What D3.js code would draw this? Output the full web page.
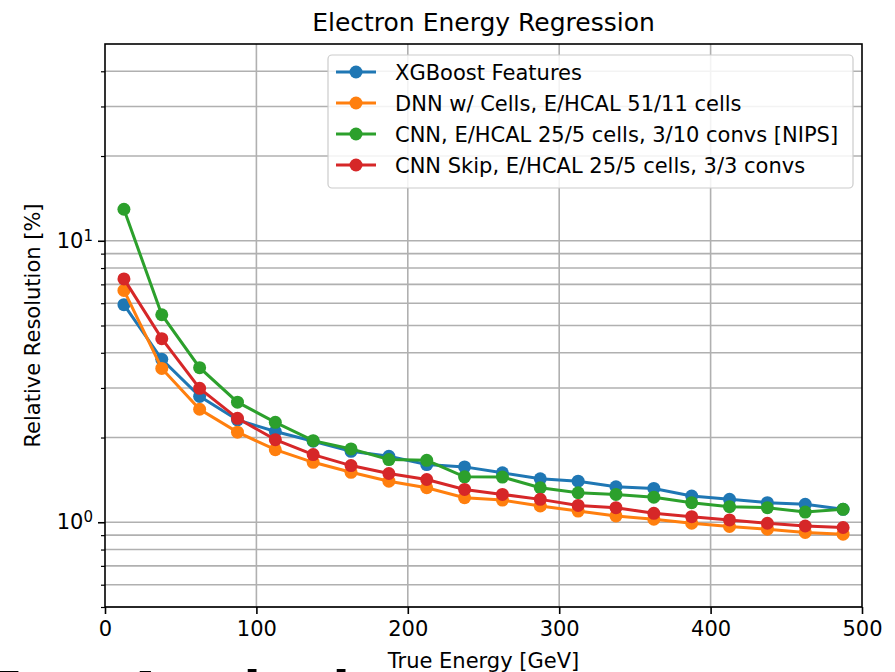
<!DOCTYPE html>
<meta charset="utf-8">
<style>
body { margin: 0; background: #fff; }
svg { font-family: "DejaVu Sans", sans-serif; }
</style>
<svg id="chart" width="895" height="672"></svg>
<script src="https://cdn.jsdelivr.net/npm/d3@7/dist/d3.min.js"></script>
<script>

// energies (bin centres, GeV)
var energy = [12.5, 37.5, 62.5, 87.5, 112.5, 137.5, 162.5, 187.5, 212.5, 237.5,
              262.5, 287.5, 312.5, 337.5, 362.5, 387.5, 412.5, 437.5, 462.5, 487.5];

var xgboost = [5.93, 3.79, 2.80, 2.31, 2.10, 1.94, 1.786, 1.715, 1.603, 1.573,
               1.498, 1.427, 1.399, 1.337, 1.319, 1.239, 1.206, 1.174, 1.158, 1.112];
var dnn     = [6.66, 3.52, 2.52, 2.09, 1.81, 1.633, 1.505, 1.399, 1.326, 1.223,
               1.199, 1.142, 1.096, 1.053, 1.025, 0.992, 0.966, 0.945, 0.920, 0.907];
var cnn     = [12.94, 5.46, 3.54, 2.67, 2.265, 1.949, 1.822, 1.670, 1.660, 1.450,
               1.447, 1.326, 1.273, 1.256, 1.228, 1.174, 1.136, 1.127, 1.087, 1.112];
var cnnSkip = [7.32, 4.49, 2.99, 2.34, 1.965, 1.739, 1.590, 1.490, 1.419, 1.308,
               1.256, 1.206, 1.148, 1.127, 1.076, 1.047, 1.019, 0.992, 0.970, 0.958];

var seriesNames = ["XGBoost Features",
                   "DNN w/ Cells, E/HCAL 51/11 cells",
                   "CNN, E/HCAL 25/5 cells, 3/10 convs [NIPS]",
                   "CNN Skip, E/HCAL 25/5 cells, 3/3 convs"];
var seriesValues = [xgboost, dnn, cnn, cnnSkip];
var colors = ["#1f77b4", "#ff7f0e", "#2ca02c", "#d62728"];

var xTicks = [0, 100, 200, 300, 400, 500];
var yMajor = [1, 10];
var yMinor = [0.5, 0.6, 0.7, 0.8, 0.9, 2, 3, 4, 5, 6, 7, 8, 9, 20, 30, 40];

var svg = d3.select("#chart");
var mLeft = 105, mRight = 862, mTop = 44, mBottom = 607;

var x = d3.scaleLinear().domain([0, 500]).range([mLeft, mRight]);
var y = d3.scaleLog().domain([0.5, 50]).range([mBottom, mTop]);

// grid
var grid = svg.append("g").attr("stroke", "#b0b0b0").attr("stroke-width", 1.6);
xTicks.slice(1, -1).forEach(function(t){
	grid.append("line").attr("x1", x(t)).attr("x2", x(t)).attr("y1", mTop).attr("y2", mBottom);
});
yMajor.concat(yMinor).forEach(function(t){
	grid.append("line").attr("x1", mLeft).attr("x2", mRight).attr("y1", y(t)).attr("y2", y(t));
});

// series
var line = d3.line().x(function(d){ return x(d[0]); }).y(function(d){ return y(d[1]); });
seriesValues.forEach(function(vals, i){
	var pts = energy.map(function(e, j){ return [e, vals[j]]; });
	svg.append("path").datum(pts)
		.attr("d", line)
		.attr("fill", "none")
		.attr("stroke", colors[i])
		.attr("stroke-width", 3);
	svg.append("g").selectAll("circle").data(pts).enter().append("circle")
		.attr("cx", function(d){ return x(d[0]); })
		.attr("cy", function(d){ return y(d[1]); })
		.attr("r", 6.5)
		.attr("fill", colors[i]);
});

// frame
svg.append("rect")
	.attr("x", mLeft).attr("y", mTop)
	.attr("width", mRight - mLeft).attr("height", mBottom - mTop)
	.attr("fill", "none").attr("stroke", "#000").attr("stroke-width", 1.6);

// axes
var xAxis = svg.append("g")
	.attr("transform", "translate(0," + mBottom + ")")
	.call(d3.axisBottom(x).tickValues(xTicks).tickSize(7).tickPadding(7).tickFormat(d3.format("d")));
xAxis.select(".domain").remove();
xAxis.selectAll("line").attr("stroke-width", 1.6);
xAxis.selectAll("text").attr("font-size", 21).attr("fill", "#000").attr("font-family", "DejaVu Sans");

var yAxis = svg.append("g")
	.attr("transform", "translate(" + mLeft + ",0)")
	.call(d3.axisLeft(y).tickValues(yMajor).tickSize(7).tickPadding(6).tickFormat(""));
yAxis.select(".domain").remove();
yAxis.selectAll("line").attr("stroke-width", 1.6);
yAxis.selectAll(".tick").append("text")
	.attr("x", -12).attr("dy", "0.3em")
	.attr("text-anchor", "end")
	.attr("fill", "#000")
	.attr("font-family", "DejaVu Sans")
	.attr("font-size", 21)
	.each(function(d){
		var t = d3.select(this);
		t.append("tspan").text("10");
		t.append("tspan").attr("dy", "-0.45em").attr("font-size", 15).text(Math.round(Math.log10(d)));
	});

var yMinorAxis = svg.append("g")
	.attr("transform", "translate(" + mLeft + ",0)")
	.call(d3.axisLeft(y).tickValues(yMinor).tickSize(4).tickFormat(""));
yMinorAxis.select(".domain").remove();
yMinorAxis.selectAll("line").attr("stroke-width", 1.2);

// titles
svg.append("text")
	.attr("x", (mLeft + mRight) / 2).attr("y", 31)
	.attr("text-anchor", "middle")
	.attr("font-size", 25)
	.text("Electron Energy Regression");

svg.append("text")
	.attr("x", (mLeft + mRight) / 2).attr("y", 668)
	.attr("text-anchor", "middle")
	.attr("font-size", 21)
	.text("True Energy [GeV]");

svg.append("text")
	.attr("transform", "translate(40," + (mTop + mBottom) / 2 + ") rotate(-90)")
	.attr("text-anchor", "middle")
	.attr("font-size", 21)
	.text("Relative Resolution [%]");

// legend
var legend = svg.append("g");
legend.append("rect")
	.attr("x", 328).attr("y", 55).attr("width", 525).attr("height", 133)
	.attr("rx", 4)
	.attr("fill", "#fff").attr("fill-opacity", 0.85)
	.attr("stroke", "#cccccc").attr("stroke-width", 1.2);
seriesNames.forEach(function(name, i){
	var ly = 72 + i * 31;
	legend.append("line")
		.attr("x1", 336).attr("x2", 376).attr("y1", ly).attr("y2", ly)
		.attr("stroke", colors[i]).attr("stroke-width", 3);
	legend.append("circle").attr("cx", 356).attr("cy", ly).attr("r", 6.5).attr("fill", colors[i]);
	legend.append("text")
		.attr("x", 395).attr("y", ly).attr("dy", "0.36em")
		.attr("font-size", 21)
		.text(name);
});

// slide text cut off at the bottom edge
svg.append("text")
	.attr("x", -20).attr("y", 716)
	.attr("font-family", "Liberation Sans")
	.attr("font-weight", "bold")
	.attr("font-size", 64)
	.text("Test Analysis");

</script>
</html>
